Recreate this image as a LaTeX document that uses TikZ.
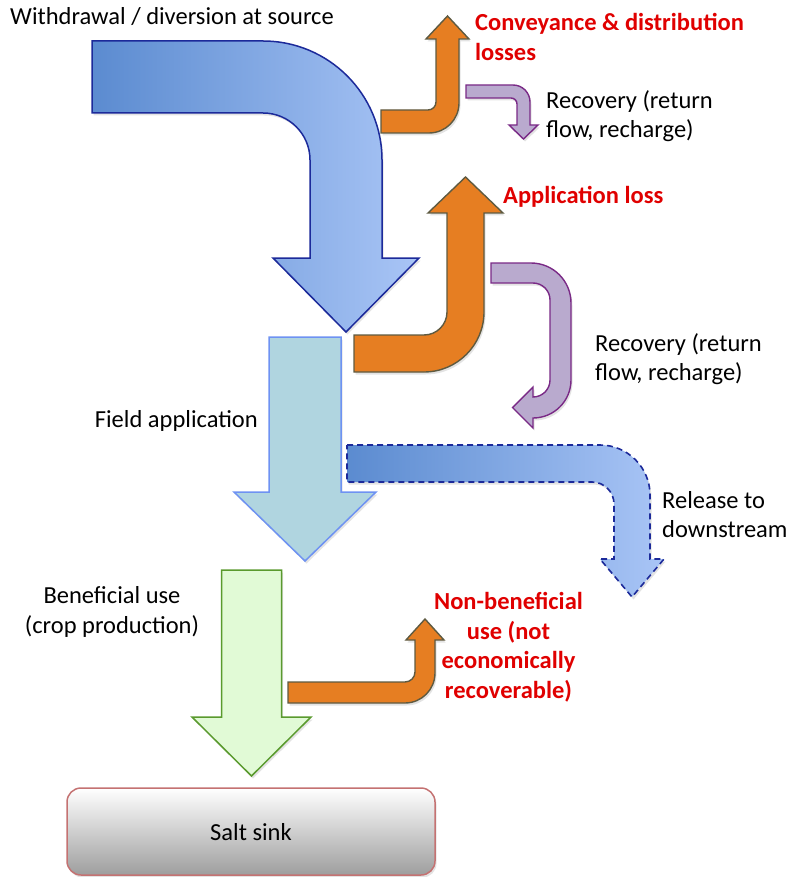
\documentclass[tikz,border=0pt]{standalone}
\usepackage{fontspec}
\setmainfont{Carlito}
\usetikzlibrary{shadows}
\definecolor{bigL}{HTML}{5B8BD0}
\definecolor{bigR}{HTML}{A9C5F6}
\definecolor{navy}{HTML}{1C2A9A}
\definecolor{orangeF}{HTML}{E67E22}
\definecolor{orangeE}{HTML}{5E5A41}
\definecolor{purpleF}{HTML}{B9AACE}
\definecolor{purpleE}{HTML}{7A2A86}
\definecolor{fieldF}{HTML}{B0D5E0}
\definecolor{fieldE}{HTML}{6E92F2}
\definecolor{greenF}{HTML}{E1FAD6}
\definecolor{greenE}{HTML}{5A9A2E}
\definecolor{sinkE}{HTML}{C47272}
\definecolor{sinkB}{HTML}{9E9E9E}
\definecolor{redT}{HTML}{E00000}
\begin{document}
\begin{tikzpicture}[x=1pt,y=-1pt,
  shad/.style={drop shadow={opacity=0.22, shadow xshift=1.5pt, shadow yshift=-2.5pt}},
  bigarrow/.style={shad, draw=navy, line width=1.5pt, line join=miter, left color=bigL, right color=bigR},
  lossarrow/.style={shad, draw=orangeE, line width=1.4pt, fill=orangeF},
  recarrow/.style={shad, draw=purpleE, line width=1.4pt, fill=purpleF},
  lbl/.style={inner sep=0pt, font=\fontsize{24.5}{29.5}\selectfont},
  redlbl/.style={lbl, text=redT, font=\fontsize{24.5}{29.5}\selectfont\bfseries}
]
\useasboundingbox (0,0) rectangle (789,877);

% big withdrawal arrow
\path[bigarrow] (92,41) -- (263,41) .. controls (328.7,41) and (382,94.3) .. (382,160)
  -- (382,258) -- (419,258) -- (346,332) -- (273,258) -- (310,258) -- (310,160)
  .. controls (310,134) and (289,113) .. (263,113) -- (92,113) -- cycle;

% conveyance loss (orange 1)
\path[lossarrow] (381,110) -- (428,110) .. controls (432.4,110) and (436,106.4) .. (436,102)
  -- (436,39) -- (426,39) -- (447.5,16) -- (469,39) -- (459,39) -- (459,103)
  .. controls (459,119.6) and (445.6,133) .. (429,133) -- (381,133) -- cycle;

% recovery 1 (purple)
\path[recarrow] (466,85) -- (513,85) .. controls (522.4,85) and (530,92.6) .. (530,102)
  -- (530,125) -- (538,125) -- (523.5,139) -- (509,125) -- (517,125) -- (517,104)
  .. controls (517,100.7) and (514.3,98) .. (511,98) -- (466,98) -- cycle;

% application loss (orange 2)
\path[lossarrow] (354,335) -- (424,335) .. controls (436.7,335) and (447,324.7) .. (447,312)
  -- (447,213) -- (428,213) -- (465.5,177) -- (503,213) -- (484,213) -- (484,312)
  .. controls (484,345.1) and (457.1,372) .. (424,372) -- (354,372) -- cycle;

% recovery 2 (purple)
\path[recarrow] (491,263) -- (531,263) .. controls (553.1,263) and (571,280.9) .. (571,303)
  -- (571,380) .. controls (571,401) and (554,418) .. (533,418)
  -- (533,428) -- (512.5,407.5) -- (533,387) -- (533,397)
  .. controls (542.4,397) and (550,389.4) .. (550,380) -- (550,300)
  .. controls (550,290.6) and (542.4,283) .. (533,283) -- (491,283) -- cycle;

% field application
\path[shad, draw=fieldE, line width=1.5pt, fill=fieldF]
  (269,337) -- (341,337) -- (341,492) -- (376,492) -- (305,561) -- (234,492) -- (269,492) -- cycle;

% release to downstream (dashed)
\path[shad, draw=navy, line width=1.6pt, dash pattern=on 6pt off 4pt, left color=bigL, right color=bigR]
  (347,445) -- (600,445) .. controls (627.6,445) and (650,467.4) .. (650,495)
  -- (650,559) -- (664,559) -- (632,597) -- (600,559) -- (614,559) -- (614,504)
  .. controls (614,491.8) and (604.2,482) .. (592,482) -- (347,482) -- cycle;

% beneficial use (green)
\path[shad, draw=greenE, line width=1.5pt, fill=greenF]
  (221.5,570) -- (281.5,570) -- (281.5,717) -- (311,717) -- (251.5,776) -- (192,717) -- (221.5,717) -- cycle;

% non-beneficial (orange 3)
\path[lossarrow] (288,682) -- (405,682) .. controls (410.5,682) and (415,677.5) .. (415,672)
  -- (415,640) -- (406,640) -- (425,619) -- (444,640) -- (435,640) -- (435,673)
  .. controls (435,689.6) and (421.6,703) .. (405,703) -- (288,703) -- cycle;

% salt sink
\path[shad, draw=sinkE, line width=1.5pt, rounded corners=14pt, top color=white, bottom color=sinkB]
  (67,788) rectangle (435,875);
\node[lbl] (sink) at (251,832) {Salt sink};

% labels
\node[lbl, anchor=west] (withdraw) at (10,17) {Withdrawal / diversion at source};
\node[redlbl, anchor=west, align=left] (conv) at (475,37) {Conveyance \& distribution\\losses};
\node[lbl, anchor=west, align=left] (rec1) at (546,116) {Recovery (return\\flow, recharge)};
\node[redlbl, anchor=west] (apploss) at (503,197) {Application loss};
\node[lbl, anchor=west, align=left] (rec2) at (595,359) {Recovery (return\\flow, recharge)};
\node[lbl, anchor=east] (field) at (258,421) {Field application};
\node[lbl, anchor=west, align=left] (release) at (662,514.5) {Release to\\downstream};
\node[lbl, align=center] (benef) at (112,612) {Beneficial use\\(crop production)};
\node[redlbl, align=center] (nonben) at (508.5,647) {Non-beneficial\\use (not\\economically\\recoverable)};
\end{tikzpicture}
\end{document}
